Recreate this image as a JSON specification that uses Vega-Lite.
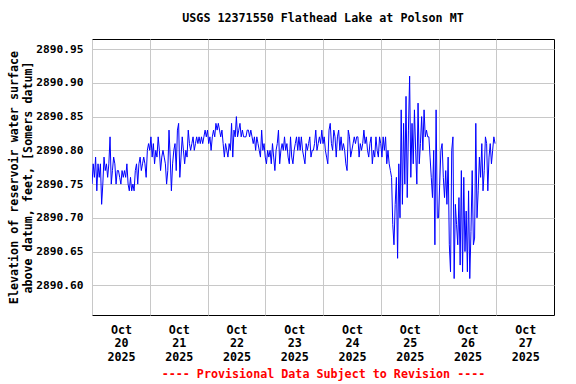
{
"$schema": "https://vega.github.io/schema/vega-lite/v6.json",
"width": 462, "height": 276,
"autosize": "none",
"padding": {"left": 92, "top": 39, "right": 22, "bottom": 69},
"background": "white",
"config": {"view": {"stroke": "black", "strokeWidth": 1}},
"title": {"text": "USGS 12371550 Flathead Lake at Polson MT", "font": "DejaVu Sans Mono", "fontSize": 11.7, "fontWeight": "bold", "anchor": "middle", "offset": 14, "color": "black"},
"data": {"values": [
{"t":"2025-10-20T00:00","v":2890.75},{"t":"2025-10-20T00:30","v":2890.78},{"t":"2025-10-20T01:00","v":2890.76},{"t":"2025-10-20T01:30","v":2890.79},{"t":"2025-10-20T02:00","v":2890.74},{"t":"2025-10-20T02:30","v":2890.78},{"t":"2025-10-20T03:00","v":2890.76},{"t":"2025-10-20T03:30","v":2890.78},{"t":"2025-10-20T04:00","v":2890.72},{"t":"2025-10-20T04:30","v":2890.75},{"t":"2025-10-20T05:00","v":2890.79},{"t":"2025-10-20T05:30","v":2890.77},{"t":"2025-10-20T06:00","v":2890.78},{"t":"2025-10-20T06:30","v":2890.76},{"t":"2025-10-20T07:00","v":2890.78},{"t":"2025-10-20T07:30","v":2890.82},{"t":"2025-10-20T08:00","v":2890.75},{"t":"2025-10-20T08:30","v":2890.77},{"t":"2025-10-20T09:00","v":2890.79},{"t":"2025-10-20T09:30","v":2890.78},{"t":"2025-10-20T10:00","v":2890.75},{"t":"2025-10-20T10:30","v":2890.77},{"t":"2025-10-20T11:00","v":2890.77},{"t":"2025-10-20T11:30","v":2890.76},{"t":"2025-10-20T12:00","v":2890.75},{"t":"2025-10-20T12:30","v":2890.77},{"t":"2025-10-20T13:00","v":2890.76},{"t":"2025-10-20T13:30","v":2890.77},{"t":"2025-10-20T14:00","v":2890.76},{"t":"2025-10-20T14:30","v":2890.78},{"t":"2025-10-20T15:00","v":2890.75},{"t":"2025-10-20T15:30","v":2890.74},{"t":"2025-10-20T16:00","v":2890.76},{"t":"2025-10-20T16:30","v":2890.74},{"t":"2025-10-20T17:00","v":2890.75},{"t":"2025-10-20T17:30","v":2890.74},{"t":"2025-10-20T18:00","v":2890.77},{"t":"2025-10-20T18:30","v":2890.78},{"t":"2025-10-20T19:00","v":2890.75},{"t":"2025-10-20T19:30","v":2890.78},{"t":"2025-10-20T20:00","v":2890.79},{"t":"2025-10-20T20:30","v":2890.77},{"t":"2025-10-20T21:00","v":2890.78},{"t":"2025-10-20T21:30","v":2890.79},{"t":"2025-10-20T22:00","v":2890.78},{"t":"2025-10-20T22:30","v":2890.76},{"t":"2025-10-20T23:00","v":2890.80},{"t":"2025-10-20T23:30","v":2890.81},
{"t":"2025-10-21T00:00","v":2890.80},{"t":"2025-10-21T00:30","v":2890.82},{"t":"2025-10-21T01:00","v":2890.79},{"t":"2025-10-21T01:30","v":2890.81},{"t":"2025-10-21T02:00","v":2890.78},{"t":"2025-10-21T02:30","v":2890.80},{"t":"2025-10-21T03:00","v":2890.79},{"t":"2025-10-21T03:30","v":2890.82},{"t":"2025-10-21T04:00","v":2890.80},{"t":"2025-10-21T04:30","v":2890.77},{"t":"2025-10-21T05:00","v":2890.79},{"t":"2025-10-21T05:30","v":2890.80},{"t":"2025-10-21T06:00","v":2890.79},{"t":"2025-10-21T06:30","v":2890.78},{"t":"2025-10-21T07:00","v":2890.75},{"t":"2025-10-21T07:30","v":2890.77},{"t":"2025-10-21T08:00","v":2890.83},{"t":"2025-10-21T08:30","v":2890.79},{"t":"2025-10-21T09:00","v":2890.74},{"t":"2025-10-21T09:30","v":2890.78},{"t":"2025-10-21T10:00","v":2890.80},{"t":"2025-10-21T10:30","v":2890.81},{"t":"2025-10-21T11:00","v":2890.77},{"t":"2025-10-21T11:30","v":2890.83},{"t":"2025-10-21T12:00","v":2890.84},{"t":"2025-10-21T12:30","v":2890.76},{"t":"2025-10-21T13:00","v":2890.79},{"t":"2025-10-21T13:30","v":2890.82},{"t":"2025-10-21T14:00","v":2890.80},{"t":"2025-10-21T14:30","v":2890.78},{"t":"2025-10-21T15:00","v":2890.80},{"t":"2025-10-21T15:30","v":2890.79},{"t":"2025-10-21T16:00","v":2890.83},{"t":"2025-10-21T16:30","v":2890.81},{"t":"2025-10-21T17:00","v":2890.80},{"t":"2025-10-21T17:30","v":2890.81},{"t":"2025-10-21T18:00","v":2890.82},{"t":"2025-10-21T18:30","v":2890.80},{"t":"2025-10-21T19:00","v":2890.81},{"t":"2025-10-21T19:30","v":2890.82},{"t":"2025-10-21T20:00","v":2890.81},{"t":"2025-10-21T20:30","v":2890.82},{"t":"2025-10-21T21:00","v":2890.81},{"t":"2025-10-21T21:30","v":2890.82},{"t":"2025-10-21T22:00","v":2890.81},{"t":"2025-10-21T22:30","v":2890.82},{"t":"2025-10-21T23:00","v":2890.83},{"t":"2025-10-21T23:30","v":2890.82},
{"t":"2025-10-22T00:00","v":2890.83},{"t":"2025-10-22T00:30","v":2890.81},{"t":"2025-10-22T01:00","v":2890.82},{"t":"2025-10-22T01:30","v":2890.80},{"t":"2025-10-22T02:00","v":2890.82},{"t":"2025-10-22T02:30","v":2890.83},{"t":"2025-10-22T03:00","v":2890.82},{"t":"2025-10-22T03:30","v":2890.84},{"t":"2025-10-22T04:00","v":2890.83},{"t":"2025-10-22T04:30","v":2890.84},{"t":"2025-10-22T05:00","v":2890.83},{"t":"2025-10-22T05:30","v":2890.82},{"t":"2025-10-22T06:00","v":2890.83},{"t":"2025-10-22T06:30","v":2890.81},{"t":"2025-10-22T07:00","v":2890.79},{"t":"2025-10-22T07:30","v":2890.81},{"t":"2025-10-22T08:00","v":2890.80},{"t":"2025-10-22T08:30","v":2890.79},{"t":"2025-10-22T09:00","v":2890.81},{"t":"2025-10-22T09:30","v":2890.80},{"t":"2025-10-22T10:00","v":2890.84},{"t":"2025-10-22T10:30","v":2890.79},{"t":"2025-10-22T11:00","v":2890.83},{"t":"2025-10-22T11:30","v":2890.82},{"t":"2025-10-22T12:00","v":2890.85},{"t":"2025-10-22T12:30","v":2890.82},{"t":"2025-10-22T13:00","v":2890.83},{"t":"2025-10-22T13:30","v":2890.84},{"t":"2025-10-22T14:00","v":2890.82},{"t":"2025-10-22T14:30","v":2890.83},{"t":"2025-10-22T15:00","v":2890.82},{"t":"2025-10-22T15:30","v":2890.82},{"t":"2025-10-22T16:00","v":2890.82},{"t":"2025-10-22T16:30","v":2890.83},{"t":"2025-10-22T17:00","v":2890.83},{"t":"2025-10-22T17:30","v":2890.82},{"t":"2025-10-22T18:00","v":2890.83},{"t":"2025-10-22T18:30","v":2890.82},{"t":"2025-10-22T19:00","v":2890.81},{"t":"2025-10-22T19:30","v":2890.82},{"t":"2025-10-22T20:00","v":2890.80},{"t":"2025-10-22T20:30","v":2890.82},{"t":"2025-10-22T21:00","v":2890.81},{"t":"2025-10-22T21:30","v":2890.80},{"t":"2025-10-22T22:00","v":2890.79},{"t":"2025-10-22T22:30","v":2890.83},{"t":"2025-10-22T23:00","v":2890.80},{"t":"2025-10-22T23:30","v":2890.81},
{"t":"2025-10-23T00:00","v":2890.79},{"t":"2025-10-23T00:30","v":2890.78},{"t":"2025-10-23T01:00","v":2890.80},{"t":"2025-10-23T01:30","v":2890.79},{"t":"2025-10-23T02:00","v":2890.80},{"t":"2025-10-23T02:30","v":2890.78},{"t":"2025-10-23T03:00","v":2890.81},{"t":"2025-10-23T03:30","v":2890.79},{"t":"2025-10-23T04:00","v":2890.77},{"t":"2025-10-23T04:30","v":2890.80},{"t":"2025-10-23T05:00","v":2890.81},{"t":"2025-10-23T05:30","v":2890.83},{"t":"2025-10-23T06:00","v":2890.78},{"t":"2025-10-23T06:30","v":2890.80},{"t":"2025-10-23T07:00","v":2890.81},{"t":"2025-10-23T07:30","v":2890.80},{"t":"2025-10-23T08:00","v":2890.82},{"t":"2025-10-23T08:30","v":2890.80},{"t":"2025-10-23T09:00","v":2890.81},{"t":"2025-10-23T09:30","v":2890.79},{"t":"2025-10-23T10:00","v":2890.78},{"t":"2025-10-23T10:30","v":2890.82},{"t":"2025-10-23T11:00","v":2890.79},{"t":"2025-10-23T11:30","v":2890.78},{"t":"2025-10-23T12:00","v":2890.80},{"t":"2025-10-23T12:30","v":2890.81},{"t":"2025-10-23T13:00","v":2890.82},{"t":"2025-10-23T13:30","v":2890.80},{"t":"2025-10-23T14:00","v":2890.82},{"t":"2025-10-23T14:30","v":2890.80},{"t":"2025-10-23T15:00","v":2890.82},{"t":"2025-10-23T15:30","v":2890.80},{"t":"2025-10-23T16:00","v":2890.79},{"t":"2025-10-23T16:30","v":2890.78},{"t":"2025-10-23T17:00","v":2890.81},{"t":"2025-10-23T17:30","v":2890.80},{"t":"2025-10-23T18:00","v":2890.81},{"t":"2025-10-23T18:30","v":2890.82},{"t":"2025-10-23T19:00","v":2890.79},{"t":"2025-10-23T19:30","v":2890.80},{"t":"2025-10-23T20:00","v":2890.80},{"t":"2025-10-23T20:30","v":2890.81},{"t":"2025-10-23T21:00","v":2890.83},{"t":"2025-10-23T21:30","v":2890.80},{"t":"2025-10-23T22:00","v":2890.81},{"t":"2025-10-23T22:30","v":2890.82},{"t":"2025-10-23T23:00","v":2890.81},{"t":"2025-10-23T23:30","v":2890.83},
{"t":"2025-10-24T00:00","v":2890.81},{"t":"2025-10-24T00:30","v":2890.82},{"t":"2025-10-24T01:00","v":2890.80},{"t":"2025-10-24T01:30","v":2890.79},{"t":"2025-10-24T02:00","v":2890.78},{"t":"2025-10-24T02:30","v":2890.83},{"t":"2025-10-24T03:00","v":2890.84},{"t":"2025-10-24T03:30","v":2890.81},{"t":"2025-10-24T04:00","v":2890.80},{"t":"2025-10-24T04:30","v":2890.83},{"t":"2025-10-24T05:00","v":2890.82},{"t":"2025-10-24T05:30","v":2890.79},{"t":"2025-10-24T06:00","v":2890.82},{"t":"2025-10-24T06:30","v":2890.83},{"t":"2025-10-24T07:00","v":2890.80},{"t":"2025-10-24T07:30","v":2890.82},{"t":"2025-10-24T08:00","v":2890.80},{"t":"2025-10-24T08:30","v":2890.81},{"t":"2025-10-24T09:00","v":2890.80},{"t":"2025-10-24T09:30","v":2890.78},{"t":"2025-10-24T10:00","v":2890.77},{"t":"2025-10-24T10:30","v":2890.83},{"t":"2025-10-24T11:00","v":2890.82},{"t":"2025-10-24T11:30","v":2890.79},{"t":"2025-10-24T12:00","v":2890.80},{"t":"2025-10-24T12:30","v":2890.81},{"t":"2025-10-24T13:00","v":2890.82},{"t":"2025-10-24T13:30","v":2890.81},{"t":"2025-10-24T14:00","v":2890.82},{"t":"2025-10-24T14:30","v":2890.82},{"t":"2025-10-24T15:00","v":2890.79},{"t":"2025-10-24T15:30","v":2890.81},{"t":"2025-10-24T16:00","v":2890.80},{"t":"2025-10-24T16:30","v":2890.81},{"t":"2025-10-24T17:00","v":2890.83},{"t":"2025-10-24T17:30","v":2890.81},{"t":"2025-10-24T18:00","v":2890.82},{"t":"2025-10-24T18:30","v":2890.80},{"t":"2025-10-24T19:00","v":2890.79},{"t":"2025-10-24T19:30","v":2890.81},{"t":"2025-10-24T20:00","v":2890.82},{"t":"2025-10-24T20:30","v":2890.78},{"t":"2025-10-24T21:00","v":2890.80},{"t":"2025-10-24T21:30","v":2890.79},{"t":"2025-10-24T22:00","v":2890.82},{"t":"2025-10-24T22:30","v":2890.80},{"t":"2025-10-24T23:00","v":2890.79},{"t":"2025-10-24T23:30","v":2890.82},
{"t":"2025-10-25T00:00","v":2890.81},{"t":"2025-10-25T00:30","v":2890.79},{"t":"2025-10-25T01:00","v":2890.82},{"t":"2025-10-25T01:30","v":2890.80},{"t":"2025-10-25T02:00","v":2890.82},{"t":"2025-10-25T02:30","v":2890.78},{"t":"2025-10-25T03:00","v":2890.80},{"t":"2025-10-25T03:30","v":2890.78},{"t":"2025-10-25T04:00","v":2890.77},{"t":"2025-10-25T04:30","v":2890.76},{"t":"2025-10-25T05:00","v":2890.69},{"t":"2025-10-25T05:30","v":2890.66},{"t":"2025-10-25T06:00","v":2890.72},{"t":"2025-10-25T06:30","v":2890.76},{"t":"2025-10-25T07:00","v":2890.64},{"t":"2025-10-25T07:30","v":2890.78},{"t":"2025-10-25T08:00","v":2890.70},{"t":"2025-10-25T08:30","v":2890.86},{"t":"2025-10-25T09:00","v":2890.72},{"t":"2025-10-25T09:30","v":2890.84},{"t":"2025-10-25T10:00","v":2890.75},{"t":"2025-10-25T10:30","v":2890.88},{"t":"2025-10-25T11:00","v":2890.73},{"t":"2025-10-25T11:30","v":2890.83},{"t":"2025-10-25T12:00","v":2890.91},{"t":"2025-10-25T12:30","v":2890.76},{"t":"2025-10-25T13:00","v":2890.84},{"t":"2025-10-25T13:30","v":2890.78},{"t":"2025-10-25T14:00","v":2890.86},{"t":"2025-10-25T14:30","v":2890.80},{"t":"2025-10-25T15:00","v":2890.75},{"t":"2025-10-25T15:30","v":2890.87},{"t":"2025-10-25T16:00","v":2890.78},{"t":"2025-10-25T16:30","v":2890.81},{"t":"2025-10-25T17:00","v":2890.85},{"t":"2025-10-25T17:30","v":2890.80},{"t":"2025-10-25T18:00","v":2890.86},{"t":"2025-10-25T18:30","v":2890.82},{"t":"2025-10-25T19:00","v":2890.83},{"t":"2025-10-25T19:30","v":2890.82},{"t":"2025-10-25T20:00","v":2890.82},{"t":"2025-10-25T20:30","v":2890.79},{"t":"2025-10-25T21:00","v":2890.76},{"t":"2025-10-25T21:30","v":2890.73},{"t":"2025-10-25T22:00","v":2890.80},{"t":"2025-10-25T22:30","v":2890.66},{"t":"2025-10-25T23:00","v":2890.86},{"t":"2025-10-25T23:30","v":2890.70},
{"t":"2025-10-26T00:00","v":2890.70},{"t":"2025-10-26T00:30","v":2890.75},{"t":"2025-10-26T01:00","v":2890.80},{"t":"2025-10-26T01:30","v":2890.81},{"t":"2025-10-26T02:00","v":2890.76},{"t":"2025-10-26T02:30","v":2890.73},{"t":"2025-10-26T03:00","v":2890.77},{"t":"2025-10-26T03:30","v":2890.72},{"t":"2025-10-26T04:00","v":2890.79},{"t":"2025-10-26T04:30","v":2890.66},{"t":"2025-10-26T05:00","v":2890.62},{"t":"2025-10-26T05:30","v":2890.80},{"t":"2025-10-26T06:00","v":2890.82},{"t":"2025-10-26T06:30","v":2890.61},{"t":"2025-10-26T07:00","v":2890.72},{"t":"2025-10-26T07:30","v":2890.69},{"t":"2025-10-26T08:00","v":2890.66},{"t":"2025-10-26T08:30","v":2890.73},{"t":"2025-10-26T09:00","v":2890.63},{"t":"2025-10-26T09:30","v":2890.77},{"t":"2025-10-26T10:00","v":2890.62},{"t":"2025-10-26T10:30","v":2890.76},{"t":"2025-10-26T11:00","v":2890.65},{"t":"2025-10-26T11:30","v":2890.71},{"t":"2025-10-26T12:00","v":2890.62},{"t":"2025-10-26T12:30","v":2890.74},{"t":"2025-10-26T13:00","v":2890.61},{"t":"2025-10-26T13:30","v":2890.68},{"t":"2025-10-26T14:00","v":2890.77},{"t":"2025-10-26T14:30","v":2890.66},{"t":"2025-10-26T15:00","v":2890.67},{"t":"2025-10-26T15:30","v":2890.84},{"t":"2025-10-26T16:00","v":2890.70},{"t":"2025-10-26T16:30","v":2890.74},{"t":"2025-10-26T17:00","v":2890.79},{"t":"2025-10-26T17:30","v":2890.76},{"t":"2025-10-26T18:00","v":2890.81},{"t":"2025-10-26T18:30","v":2890.74},{"t":"2025-10-26T19:00","v":2890.77},{"t":"2025-10-26T19:30","v":2890.82},{"t":"2025-10-26T20:00","v":2890.81},{"t":"2025-10-26T20:30","v":2890.74},{"t":"2025-10-26T21:00","v":2890.79},{"t":"2025-10-26T21:30","v":2890.81},{"t":"2025-10-26T22:00","v":2890.78},{"t":"2025-10-26T22:30","v":2890.80},{"t":"2025-10-26T23:00","v":2890.82},{"t":"2025-10-26T23:30","v":2890.81}
]},
"mark": {"type": "line", "color": "#0000ff", "strokeWidth": 1, "clip": true},
"encoding": {
"x": {"field": "t", "type": "temporal",
 "scale": {"domain": [{"year": 2025, "month": "oct", "date": 20}, {"year": 2025, "month": "oct", "date": 28}], "nice": false},
 "axis": {"values": [{"year": 2025, "month": "oct", "date": 20}, {"year": 2025, "month": "oct", "date": 21}, {"year": 2025, "month": "oct", "date": 22}, {"year": 2025, "month": "oct", "date": 23}, {"year": 2025, "month": "oct", "date": 24}, {"year": 2025, "month": "oct", "date": 25}, {"year": 2025, "month": "oct", "date": 26}, {"year": 2025, "month": "oct", "date": 27}],
  "grid": true, "gridColor": "#c8c8c8", "gridOpacity": 1, "ticks": false, "domain": false,
  "labelExpr": "[timeFormat(datum.value, '%b'), timeFormat(datum.value, '%d'), timeFormat(datum.value, '%Y')]",
  "labelOffset": 29, "labelPadding": 9, "labelBaseline": "top", "labelLineHeight": 13.5,
  "labelFont": "DejaVu Sans Mono", "labelFontSize": 11.7, "labelFontWeight": "bold", "labelColor": "black",
  "labelFlush": false, "labelOverlap": false, "labelBound": false,
  "title": "---- Provisional Data Subject to Revision ----", "titleColor": "red", "titleFont": "DejaVu Sans Mono", "titleFontSize": 11.7, "titleFontWeight": "bold", "titlePadding": 6}},
"y": {"field": "v", "type": "quantitative",
 "scale": {"domain": [2890.556, 2890.965], "nice": false, "zero": false},
 "axis": {"values": [2890.6, 2890.65, 2890.7, 2890.75, 2890.8, 2890.85, 2890.9, 2890.95], "format": ".2f",
  "grid": true, "gridColor": "#c8c8c8", "gridOpacity": 1, "ticks": false, "domain": false,
  "labelPadding": 9, "labelFont": "DejaVu Sans Mono", "labelFontSize": 11.2, "labelFontWeight": "bold", "labelColor": "black",
  "title": ["Elevation of reservoir water surface", "above datum, feet, [Somers datum]"],
  "titleFont": "DejaVu Sans Mono", "titleFontSize": 11.7, "titleFontWeight": "bold", "titleColor": "black", "titleLineHeight": 14,
  "titleBaseline": "middle", "titleX": -79, "titleY": 138, "titleAngle": -90}}
}
}
